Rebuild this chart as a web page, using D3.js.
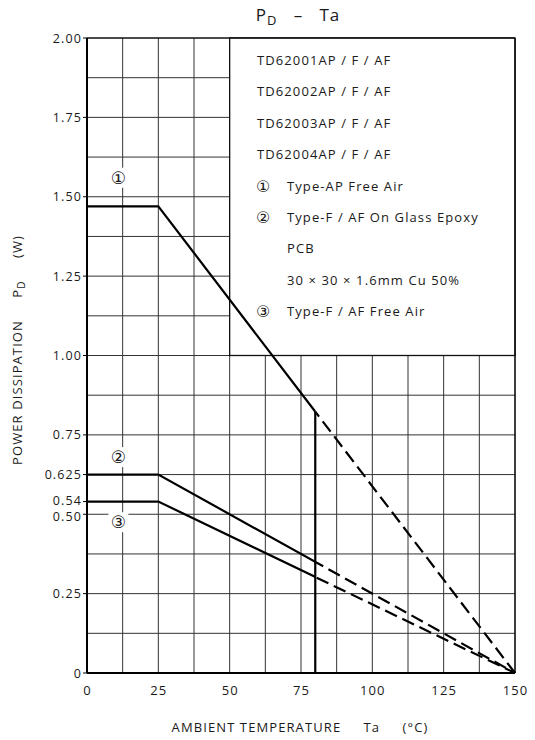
<!DOCTYPE html>
<html><head><meta charset="utf-8">
<script src="https://cdn.jsdelivr.net/npm/d3@7"></script>
<style>
html,body{margin:0;padding:0;background:#fff;}
text{font-family:"Open Sans","DejaVu Sans",sans-serif;fill:#1a1a1a;}
</style></head>
<body>
<svg id="c" width="535" height="740"></svg>
<script>
// ---- data ----
const temps = [0, 25, 150];
const seriesAP = [1.47, 1.47, 0];       // ① Type-AP Free Air
const seriesFGlass = [0.625, 0.625, 0]; // ② Type-F/AF On Glass Epoxy PCB
const seriesFFree = [0.54, 0.54, 0];    // ③ Type-F/AF Free Air
const solidLimit = 80;
const xTicks = [0, 25, 50, 75, 100, 125, 150];
const yTicks = [0, 0.25, 0.5, 0.54, 0.625, 0.75, 1.0, 1.25, 1.5, 1.75, 2.0];
const yTickLabels = ["0", "0.25", "0.50", "0.54", "0.625", "0.75", "1.00", "1.25", "1.50", "1.75", "2.00"];
const legendLines = [
  {m:"", t:"TD62001AP / F / AF"}, {m:"", t:"TD62002AP / F / AF"},
  {m:"", t:"TD62003AP / F / AF"}, {m:"", t:"TD62004AP / F / AF"},
  {m:"①", t:"Type-AP Free Air"}, {m:"②", t:"Type-F / AF On Glass Epoxy"},
  {m:"", t:"PCB", indent:true}, {m:"", t:"30 × 30 × 1.6mm Cu 50%", indent:true},
  {m:"③", t:"Type-F / AF Free Air"}];
const markers = [{t:"①", x:11, y:1.56}, {t:"②", x:11, y:0.68}, {t:"③", x:11, y:0.475}];

// ---- layout ----
const svg = d3.select("#c");
const L = 87, R = 515, T = 38, B = 673;
const LS = "1.1px";
const x = d3.scaleLinear().domain([0,150]).range([L,R]);
const y = d3.scaleLinear().domain([0,2]).range([B,T]);

// grid
const g = svg.append("g");
const vgrid = d3.range(0, 150.01, 12.5);
const hgrid = d3.range(0, 2.001, 0.125);
g.selectAll(".vg").data(vgrid).join("line")
  .attr("x1", d=>x(d)).attr("x2", d=>x(d)).attr("y1", T).attr("y2", B)
  .attr("stroke", "#333").attr("stroke-width", 1);
g.selectAll(".hg").data(hgrid).join("line")
  .attr("x1", L).attr("x2", R).attr("y1", d=>y(d)).attr("y2", d=>y(d))
  .attr("stroke", "#333").attr("stroke-width", 1);

// legend box (covers grid)
svg.append("rect").attr("x", x(50)).attr("y", y(2)).attr("width", x(150)-x(50)).attr("height", y(1)-y(2))
  .attr("fill", "#fff").attr("stroke", "#111").attr("stroke-width", 1.3);
legendLines.forEach((s,i)=>{
  const yy = 65 + i*31.4;
  if (s.m) svg.append("text").attr("x", 256).attr("y", yy+1).attr("font-size", 16).text(s.m);
  svg.append("text").attr("x", (s.m || s.indent) ? 287 : 257).attr("y", yy).attr("font-size", 13)
    .style("letter-spacing", LS).text(s.t);
});

// frame
svg.append("line").attr("x1",L).attr("x2",L).attr("y1",T).attr("y2",B).attr("stroke","#000").attr("stroke-width",2);
svg.append("line").attr("x1",L).attr("x2",R).attr("y1",B).attr("y2",B).attr("stroke","#000").attr("stroke-width",2);
svg.append("line").attr("x1",L).attr("x2",R).attr("y1",T).attr("y2",T).attr("stroke","#000").attr("stroke-width",1.2);
svg.append("line").attr("x1",R).attr("x2",R).attr("y1",T).attr("y2",B).attr("stroke","#000").attr("stroke-width",1.2);

// clips
const defs = svg.append("defs");
defs.append("clipPath").attr("id","solidClip").append("rect")
  .attr("x", 0).attr("y", 0).attr("width", x(solidLimit)).attr("height", 740);
defs.append("clipPath").attr("id","dashClip").append("rect")
  .attr("x", x(solidLimit)).attr("y", 0).attr("width", 535).attr("height", 740);

const line = d3.line().x(d=>x(d[0])).y(d=>y(d[1]));
[seriesAP, seriesFGlass, seriesFFree].forEach(s=>{
  const pts = temps.map((t,i)=>[t, s[i]]);
  svg.append("path").attr("d", line(pts)).attr("fill","none").attr("stroke","#000")
    .attr("stroke-width", 2.2).attr("clip-path","url(#solidClip)");
  svg.append("path").attr("d", line(pts)).attr("fill","none").attr("stroke","#000")
    .attr("stroke-width", 2.2).attr("stroke-dasharray","13,6").attr("clip-path","url(#dashClip)");
});
// vertical cutoff at 80°C
const apAt = d3.scaleLinear().domain([temps[1], temps[2]]).range([seriesAP[1], seriesAP[2]]);
svg.append("line").attr("x1", x(solidLimit)).attr("x2", x(solidLimit))
  .attr("y1", y(0)).attr("y2", y(apAt(solidLimit))).attr("stroke","#000").attr("stroke-width",2.2);

// markers
markers.forEach(m=>{
  svg.append("rect").attr("x", x(m.x)-10).attr("y", y(m.y)-10).attr("width",20).attr("height",20).attr("fill","#fff");
  svg.append("text").attr("x", x(m.x)).attr("y", y(m.y)+6).attr("text-anchor","middle").attr("font-size",17).text(m.t);
});

// y ticks
const yNudge = {"0.54": -1.5, "0.50": 2};
yTicks.forEach((v,i)=>{
  const lab = yTickLabels[i];
  svg.append("line").attr("x1", L-4).attr("x2", L).attr("y1", y(v)).attr("y2", y(v)).attr("stroke","#000");
  svg.append("text").attr("x", L-5).attr("y", y(v)+4.5+(yNudge[lab]||0)).attr("text-anchor","end")
    .attr("font-size",12.5).style("letter-spacing", LS).text(lab);
});
// x ticks
xTicks.forEach(v=>{
  svg.append("text").attr("x", x(v)+0.5).attr("y", 695).attr("text-anchor","middle").attr("font-size",13)
    .style("letter-spacing", LS).text(v);
});

// title
const title = svg.append("text").attr("x", 298).attr("y", 21).attr("text-anchor","middle").attr("font-size",17)
  .style("letter-spacing", "1px");
title.append("tspan").text("P");
title.append("tspan").attr("font-size",13).attr("dy",4).text("D");
title.append("tspan").attr("dy",-4).attr("xml:space","preserve").style("white-space","pre").text("   –   Ta");

// x axis label
svg.append("text").attr("x", 300).attr("y", 732).attr("text-anchor","middle").attr("font-size",13)
  .style("letter-spacing", LS).attr("xml:space","preserve").style("white-space","pre")
  .text("AMBIENT TEMPERATURE     Ta     (°C)");

// y axis label
const yl = svg.append("text").attr("transform","translate(22,350) rotate(-90)").attr("text-anchor","middle").attr("font-size",13)
  .style("letter-spacing", LS).attr("xml:space","preserve").style("white-space","pre");
yl.append("tspan").text("POWER DISSIPATION     P");
yl.append("tspan").attr("font-size",10).attr("dy",3).text("D");
yl.append("tspan").attr("dy",-3).text("     (W)");
</script>
</body></html>
